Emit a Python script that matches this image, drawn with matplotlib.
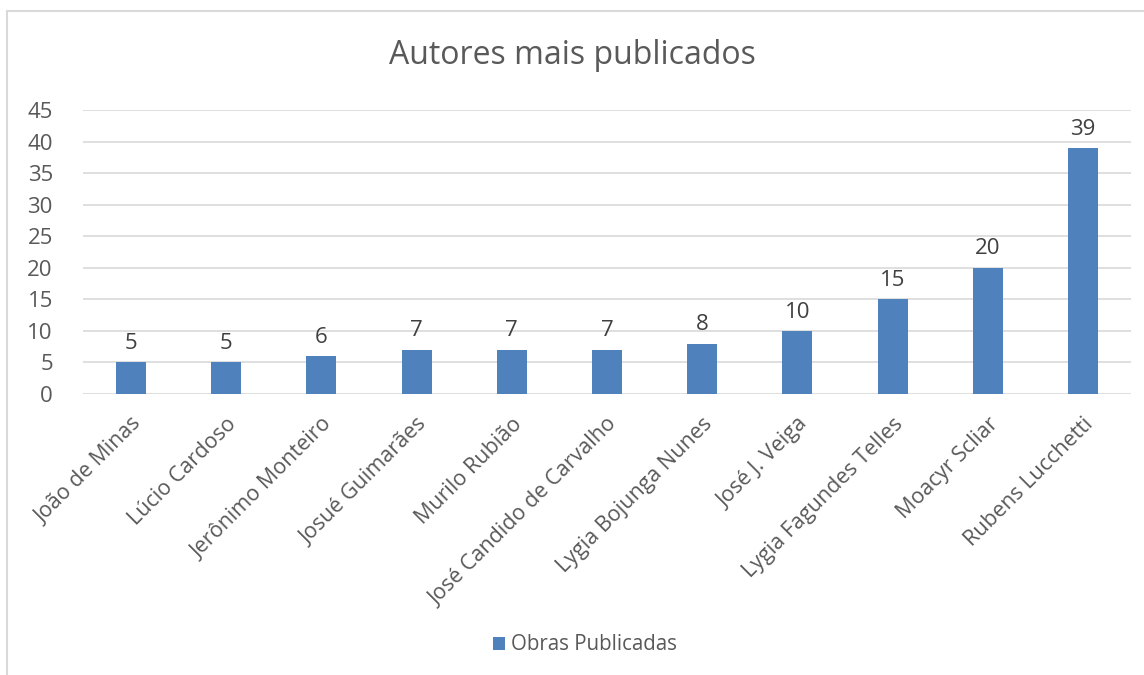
import matplotlib.pyplot as plt
from matplotlib.patches import Rectangle

plt.rcParams['font.family'] = ['Open Sans', 'DejaVu Sans']

# dados
autores = ["João de Minas", "Lúcio Cardoso", "Jerônimo Monteiro", "Josué Guimarães",
           "Murilo Rubião", "José Candido de Carvalho", "Lygia Bojunga Nunes",
           "José J. Veiga", "Lygia Fagundes Telles", "Moacyr Scliar", "Rubens Lucchetti"]
obras = [5, 5, 6, 7, 7, 7, 8, 10, 15, 20, 39]
yticks = [0, 5, 10, 15, 20, 25, 30, 35, 40, 45]

azul = "#4F81BD"
cinza = "#595959"

fig = plt.figure(figsize=(11.44, 6.75), dpi=100)
ax = fig.add_axes([83.4 / 1144, 1 - 394 / 675, (1130.6 - 83.4) / 1144, (394 - 110) / 675])

x = list(range(len(autores)))
bars = ax.bar(x, obras, width=0.315, color=azul, label="Obras Publicadas", zorder=3)
for xi, v in zip(x, obras):
    ax.annotate(str(v), (xi, v), xytext=(0, 6), textcoords="offset points",
                ha="center", va="bottom", fontsize=16, color="#404040")

ax.set_xlim(-0.5, len(autores) - 0.5)
ax.set_ylim(0, 45)
ax.set_yticks(yticks)
ax.set_xticks(x)
ax.set_xticklabels(autores, rotation=45, ha="right", rotation_mode="anchor", fontsize=15.5, color=cinza)
ax.tick_params(axis="y", labelsize=16, labelcolor=cinza, length=0, pad=22)
ax.tick_params(axis="x", length=0, pad=14)
ax.grid(axis="y", color="#D9D9D9", linewidth=1.2, zorder=0)
for s in ax.spines.values():
    s.set_visible(False)

fig.text(0.5, 1 - 56 / 675, "Autores mais publicados", ha="center", va="center",
         fontsize=23, color=cinza)

leg = fig.legend(handles=[bars], labels=["Obras Publicadas"], loc="center",
                 bbox_to_anchor=(585 / 1144, 1 - 645 / 675), frameon=False,
                 fontsize=14.8, handlelength=0.6, handleheight=0.6, handletextpad=0.3)
for t in leg.get_texts():
    t.set_color(cinza)

# moldura do gráfico (só topo e esquerda visíveis)
fig.patches.append(Rectangle((7 / 1144, -0.1), 1.2, 1 - 11 / 675 + 0.1,
                             transform=fig.transFigure, fill=False,
                             edgecolor="#D9D9D9", linewidth=1.5))

fig.savefig("out.png", dpi=100)
